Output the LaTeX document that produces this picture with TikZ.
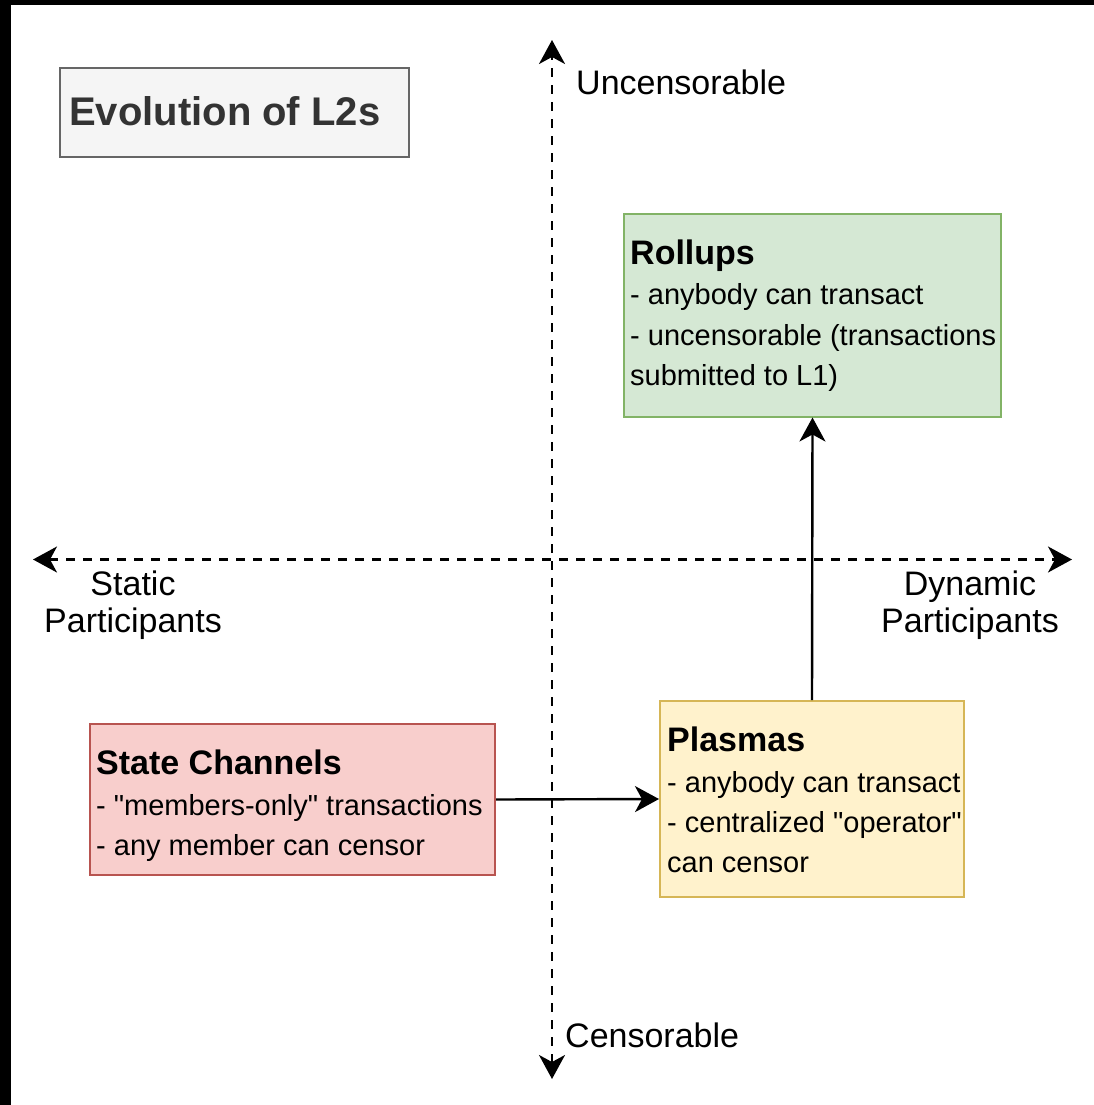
\documentclass[tikz,border=0pt]{standalone}
\usepackage{fontspec}
\setmainfont{Liberation Sans}
\usetikzlibrary{arrows.meta}

\definecolor{titlefill}{HTML}{F5F5F5}
\definecolor{titledraw}{HTML}{666666}
\definecolor{titletext}{HTML}{333333}
\definecolor{greenfill}{HTML}{D5E8D4}
\definecolor{greendraw}{HTML}{82B366}
\definecolor{redfill}{HTML}{F8CECC}
\definecolor{reddraw}{HTML}{B85450}
\definecolor{yellowfill}{HTML}{FFF2CC}
\definecolor{yellowdraw}{HTML}{D6B656}

% straight double quote, set as a glyph so no TeX ligature mapping applies
\newcommand{\dq}{\XeTeXglyph\XeTeXcharglyph"22\relax}

\tikzset{
  box/.style={draw, line width=2pt, inner sep=0pt, rectangle},
  axis/.style={line width=2.2pt, dash pattern=on 9pt off 8pt, {Stealth[length=24pt, width=26pt, inset=7pt]}-{Stealth[length=24pt, width=26pt, inset=7pt]}},
  conn/.style={line width=2.4pt, -{Stealth[length=24pt, width=26pt, inset=7pt]}},
  axislabel/.style={font=\fontsize{34}{40}\selectfont, inner sep=0pt},
  boxtitle/.style={font=\bfseries\fontsize{34}{40}\selectfont, anchor=base west, inner sep=0pt},
  boxline/.style={font=\fontsize{29}{40}\selectfont, anchor=base west, inner sep=0pt},
}

\begin{document}
\begin{tikzpicture}[x=1pt, y=-1pt]
  \useasboundingbox (0,0) rectangle (1094,1105);
  \fill[white] (0,0) rectangle (1094,1105);
  % dark frame along the top and left edges
  \fill[black] (0,0) rectangle (1094,5);
  \fill[black] (0,0) rectangle (11,1105);

  % quadrant axes
  \coordinate (ytop) at (552,40);
  \coordinate (ybot) at (552,1079);
  \coordinate (xleft) at (33,559.5);
  \coordinate (xright) at (1072,559.5);
  \draw[axis] (ybot) -- (ytop);
  \draw[axis] (xleft) -- (xright);

  % axis labels
  \node[axislabel, anchor=base west] (uncens) at (576,95) {Uncensorable};
  \node[axislabel, anchor=base west] (cens) at (565,1047) {Censorable};
  \node[axislabel, anchor=base] (staticA) at (133,595) {Static};
  \node[axislabel, anchor=base] (staticB) at (133,632) {Participants};
  \node[axislabel, anchor=base] (dynA) at (970,595) {Dynamic};
  \node[axislabel, anchor=base] (dynB) at (970,632) {Participants};

  % heading
  \node[box, draw=titledraw, fill=titlefill, minimum width=349, minimum height=88] (heading) at (234.5,112.5) {};
  \node[anchor=base west, inner sep=0pt, text=titletext, font=\bfseries\fontsize{40}{48}\selectfont] (headingtext) at (69,125) {Evolution of L2s};

  % Rollups
  \node[box, draw=greendraw, fill=greenfill, minimum width=377, minimum height=203] (rollups) at (812.5,315) {};
  \node[boxtitle] (rollupsT) at (630,264) {Rollups};
  \node[boxline] (rollupsA) at (630,304) {- anybody can transact};
  \node[boxline] (rollupsB) at (630,345) {- uncensorable (transactions};
  \node[boxline] (rollupsC) at (630,385) {submitted to L1)};

  % State Channels
  \node[box, draw=reddraw, fill=redfill, minimum width=405, minimum height=151] (channels) at (292.5,799.5) {};
  \node[boxtitle] (channelsT) at (96,774) {State Channels};
  \node[boxline] (channelsA) at (96,815) {- \dq members-only\dq{} transactions};
  \node[boxline] (channelsB) at (96,855) {- any member can censor};

  % Plasmas
  \node[box, draw=yellowdraw, fill=yellowfill, minimum width=304, minimum height=196] (plasmas) at (812,799) {};
  \node[boxtitle] (plasmasT) at (667,751) {Plasmas};
  \node[boxline] (plasmasA) at (667,792) {- anybody can transact};
  \node[boxline] (plasmasB) at (667,832) {- centralized \dq operator\dq};
  \node[boxline] (plasmasC) at (667,872) {can censor};

  % evolution steps
  \draw[conn] (channels.east) -- (plasmas.west);
  \draw[conn] (plasmas.north) -- (rollups.south);
\end{tikzpicture}
\end{document}
